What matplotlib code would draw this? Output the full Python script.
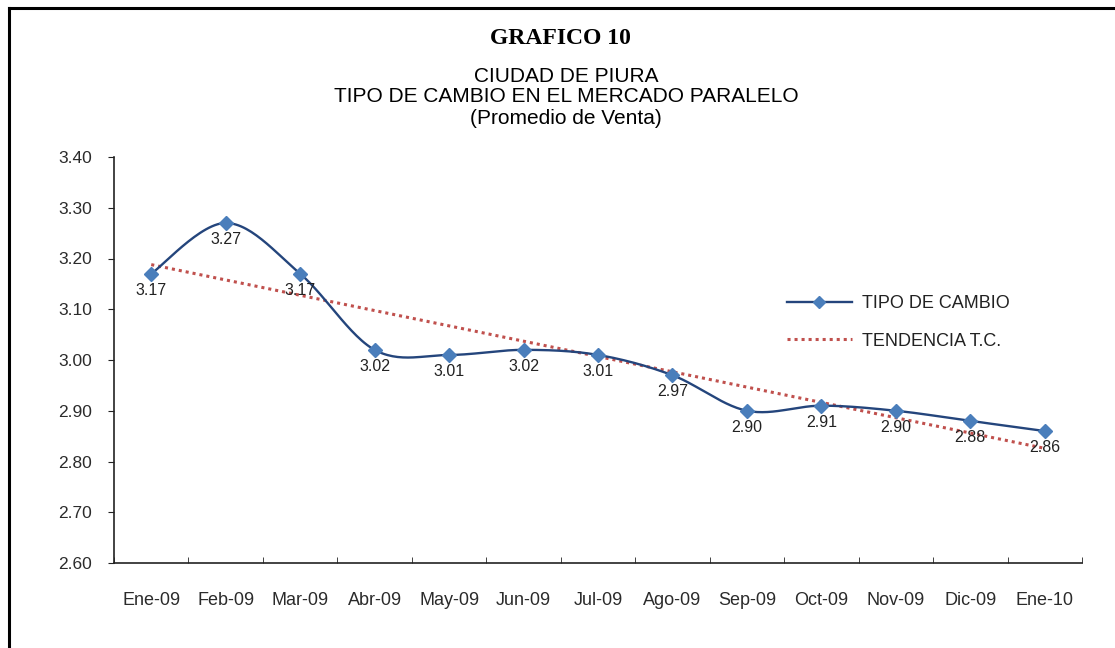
import matplotlib
matplotlib.use("Agg")
import matplotlib.pyplot as plt
import numpy as np
from matplotlib.lines import Line2D
from matplotlib.ticker import FixedLocator, FormatStrFormatter

# datos del grafico
meses = ["Ene-09", "Feb-09", "Mar-09", "Abr-09", "May-09", "Jun-09", "Jul-09",
         "Ago-09", "Sep-09", "Oct-09", "Nov-09", "Dic-09", "Ene-10"]
tipo_cambio = [3.17, 3.27, 3.17, 3.02, 3.01, 3.02, 3.01, 2.97, 2.90, 2.91, 2.90, 2.88, 2.86]
y_ticks = [2.60, 2.70, 2.80, 2.90, 3.00, 3.10, 3.20, 3.30, 3.40]

AZUL_LINEA = "#24457c"
AZUL_MARCA = "#4a7ebb"
ROJO = "#c0504d"
GRIS = "#2b2b2b"


def suavizar(x, y, n=30):
    """Curva suavizada tipo Excel (Bezier con tangentes Catmull-Rom)."""
    p = np.column_stack([x, y]).astype(float)
    out = [p[0]]
    t = np.linspace(0, 1, n)[1:, None]
    for i in range(len(p) - 1):
        p0 = p[i - 1] if i > 0 else p[i]
        p1, p2 = p[i], p[i + 1]
        p3 = p[i + 2] if i + 2 < len(p) else p[i + 1]
        c1 = p1 + (p2 - p0) / 6
        c2 = p2 - (p3 - p1) / 6
        seg = ((1 - t) ** 3) * p1 + 3 * ((1 - t) ** 2) * t * c1 + 3 * (1 - t) * t ** 2 * c2 + t ** 3 * p2
        out.extend(seg)
    out = np.array(out)
    return out[:, 0], out[:, 1]


plt.rcParams["font.family"] = ["Liberation Sans", "DejaVu Sans"]

fig = plt.figure(figsize=(11.15, 6.48), dpi=100)
ax = fig.add_axes([114 / 1115, 85 / 648, 968 / 1115, 406 / 648])

x = np.arange(1, len(meses) + 1)
y = np.array(tipo_cambio)

# tendencia lineal
coef = np.polyfit(x, y, 1)
tendencia = np.polyval(coef, x)

xs, ys = suavizar(x, y)
ax.plot(xs, ys, color=AZUL_LINEA, linewidth=1.7, zorder=3)
ax.plot(x, y, linestyle="none", marker="D", markersize=7.6, color=AZUL_MARCA, zorder=4)
ax.plot(x, tendencia, color=ROJO, linestyle=(0, (1, 1.3)), linewidth=2.2, zorder=2)

for xi, yi in zip(x, y):
    ax.annotate(f"{yi:.2f}", (xi, yi), xytext=(0, -12), textcoords="offset points",
                ha="center", va="center", fontsize=11.5, color="#222222", zorder=5)

leg_handles = [
    Line2D([], [], color=AZUL_LINEA, linewidth=1.7, marker="D", markersize=6.5,
           markerfacecolor=AZUL_MARCA, markeredgecolor=AZUL_MARCA),
    Line2D([], [], color=ROJO, linestyle=(0, (1, 1.3)), linewidth=2.2),
]
ax.legend(leg_handles, ["TIPO DE CAMBIO", "TENDENCIA T.C."], loc="upper left",
          bbox_to_anchor=(0.695, 0.66), borderaxespad=0, borderpad=0, frameon=False,
          fontsize=13, handlelength=3.6, labelspacing=1.15, handletextpad=0.55,
          labelcolor="#222222")

ax.set_xlim(0.5, len(meses) + 0.5)
ax.set_ylim(2.60, 3.40)
ax.set_yticks(y_ticks)
ax.yaxis.set_major_formatter(FormatStrFormatter("%.2f"))
ax.set_xticks(x)
ax.set_xticklabels(meses)
ax.xaxis.set_minor_locator(FixedLocator(np.arange(0.5, len(meses) + 1, 1.0)))
ax.tick_params(axis="x", which="major", length=0, pad=21, labelsize=13, labelcolor=GRIS)
ax.tick_params(axis="x", which="minor", direction="in", length=4.3, color="#222222")
ax.tick_params(axis="y", direction="out", length=4.3, pad=11.5, labelsize=12.5, labelcolor=GRIS,
               color="#222222")
for lado in ["top", "right"]:
    ax.spines[lado].set_visible(False)
for lado in ["left", "bottom"]:
    ax.spines[lado].set_color("#222222")
    ax.spines[lado].set_linewidth(1.2)

# titulos
fig.text(560 / 1115, 1 - 38 / 648, "GRAFICO 10", ha="center", va="center", fontsize=17,
         fontweight="bold", family="Liberation Serif")
fig.text(566 / 1115, 1 - 76 / 648, "CIUDAD DE PIURA", ha="center", va="center", fontsize=15)
fig.text(566 / 1115, 1 - 97 / 648, "TIPO DE CAMBIO EN EL MERCADO PARALELO", ha="center",
         va="center", fontsize=15)
fig.text(566 / 1115, 1 - 119 / 648, "(Promedio de Venta)", ha="center", va="center", fontsize=15)

# marco
fig.add_artist(Line2D([9 / 1115, 9 / 1115], [0, 1 - 8 / 648], color="black", linewidth=2.2,
                      transform=fig.transFigure))
fig.add_artist(Line2D([9 / 1115, 1], [1 - 8 / 648, 1 - 8 / 648], color="black", linewidth=2.2,
                      transform=fig.transFigure))

fig.savefig("out.png", dpi=100, facecolor="white")
plt.close(fig)
